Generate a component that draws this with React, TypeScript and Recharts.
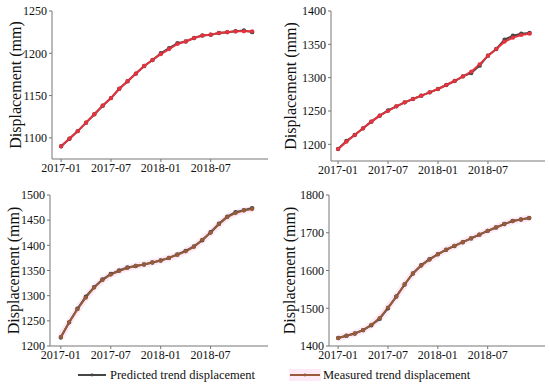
import { LineChart, Line, XAxis, YAxis } from "recharts";

const monthTicks = [0, 6, 12, 18];
const monthLabels = ["2017-01", "2017-07", "2018-01", "2018-07"];

const predA = [1090, 1099, 1108, 1118, 1128, 1138, 1147, 1158, 1167, 1176, 1185, 1192, 1200, 1206, 1212, 1214, 1218, 1221, 1222, 1224, 1225, 1226, 1227, 1225];
const measA = [1090, 1099, 1108, 1118, 1128, 1138, 1147, 1158, 1167, 1176, 1185, 1192, 1199, 1205, 1211, 1214, 1218, 1221, 1222, 1224, 1225, 1226, 1226, 1226];

const predC = [1193, 1205, 1214, 1224, 1234, 1243, 1251, 1257, 1263, 1268, 1273, 1278, 1283, 1289, 1295, 1302, 1307, 1318, 1333, 1343, 1357, 1363, 1366, 1367];
const measC = [1193, 1204, 1214, 1224, 1234, 1243, 1250, 1257, 1263, 1268, 1273, 1278, 1283, 1289, 1295, 1302, 1309, 1320, 1333, 1343, 1354, 1360, 1364, 1366];

const predB = [1217, 1247, 1274, 1298, 1317, 1332, 1343, 1350, 1356, 1359, 1362, 1366, 1370, 1375, 1382, 1389, 1398, 1410, 1426, 1443, 1457, 1466, 1470, 1474];
const measB = [1218, 1247, 1273, 1296, 1316, 1331, 1342, 1349, 1355, 1359, 1362, 1366, 1370, 1375, 1381, 1388, 1397, 1411, 1425, 1442, 1456, 1464, 1469, 1472];

const predD = [1421, 1427, 1433, 1442, 1455, 1472, 1500, 1531, 1563, 1592, 1614, 1630, 1643, 1655, 1665, 1675, 1685, 1695, 1705, 1714, 1723, 1731, 1735, 1739];
const measD = [1421, 1427, 1433, 1442, 1456, 1474, 1502, 1531, 1563, 1592, 1613, 1629, 1643, 1655, 1665, 1675, 1685, 1695, 1705, 1714, 1723, 1731, 1735, 1739];

const FONT = "Liberation Serif, Times New Roman, DejaVu Serif, serif";
const PRED_COLOR = "#454545";
const HALO = "#fcebf6";

function makeRows(pred: number[], meas: number[]) {
  return pred.map((p, i) => ({ m: i, pred: p, meas: meas[i] }));
}

const fmtMonth = (v: number) => monthLabels[monthTicks.indexOf(v)] ?? "";

interface PanelProps {
  letter: string;
  pred: number[];
  meas: number[];
  measColor: string;
  halo: boolean;
  yDomain: [number, number];
  yTicks: number[];
  xDomain: [number, number];
  left: number;
  top: number;
  height: number;
  yWidth: number;
  marginTop: number;
  marginRight: number;
  xHeight: number;
  labelX: number;
}

function Panel(p: PanelProps) {
  const data = makeRows(p.pred, p.meas);
  const yLabel = (props: any) => {
    const vb = props.viewBox;
    const cy = vb.y + vb.height / 2;
    return (
      <text x={p.labelX} y={cy} transform={`rotate(-90, ${p.labelX}, ${cy})`} textAnchor="middle"
        dominantBaseline="central" style={{ fontFamily: FONT }} fontSize={16} fill="#111">
        Displacement (mm)
      </text>
    );
  };
  const letterLabel = (props: any) => {
    const vb = props.viewBox;
    return (
      <text x={vb.x + 6} y={vb.y + 14} style={{ fontFamily: FONT }} fontSize={17} fill="#111">{p.letter}</text>
    );
  };
  const tickStyle = { fontSize: 12, fontFamily: FONT, fill: "#111", style: { fontFamily: FONT } };
  return (
    <div style={{ position: "absolute", left: p.left, top: p.top }}>
      <LineChart width={275} height={p.height} data={data}
        margin={{ top: p.marginTop, right: p.marginRight, left: 0, bottom: 0 }}>
        <XAxis xAxisId="b" dataKey="m" type="number" domain={p.xDomain} ticks={monthTicks}
          tickFormatter={fmtMonth} allowDataOverflow height={p.xHeight} interval={0}
          tick={tickStyle} tickSize={3} tickMargin={1} stroke="#777" />
        <XAxis xAxisId="t" dataKey="m" type="number" domain={p.xDomain} orientation="top" height={0}
          tick={false} tickLine={false} stroke="#999" allowDataOverflow />
        <YAxis yAxisId="l" domain={p.yDomain} ticks={p.yTicks} width={p.yWidth} interval={0}
          tick={tickStyle} tickSize={3} tickMargin={2}
          stroke="#777" allowDataOverflow label={{ content: yLabel }} />
        <YAxis yAxisId="r" domain={p.yDomain} orientation="right" width={0} tick={false} tickLine={false}
          stroke="#999" label={{ content: letterLabel }} />
        {p.halo && (
          <Line xAxisId="b" yAxisId="l" dataKey="meas" stroke={HALO} strokeWidth={7} dot={false}
            isAnimationActive={false} />
        )}
        <Line xAxisId="b" yAxisId="l" dataKey="pred" stroke={PRED_COLOR} strokeWidth={2}
          dot={{ r: 1.2, fill: PRED_COLOR, stroke: PRED_COLOR }} isAnimationActive={false} />
        <Line xAxisId="b" yAxisId="l" dataKey="meas" stroke={p.measColor} strokeWidth={2}
          dot={{ r: 1.1, fill: p.measColor, stroke: p.measColor }} isAnimationActive={false} />
      </LineChart>
    </div>
  );
}

export default function App() {
  return (
    <div style={{ position: "absolute", left: 0, top: 0, width: 550, height: 384, background: "#fff", overflow: "hidden", fontFamily: FONT }}>
      <Panel letter="a" pred={predA} meas={measA} measColor="#e8323e" halo={false}
        yDomain={[1075, 1250]} yTicks={[1100, 1150, 1200, 1250]} xDomain={[-1.1, 24.9]}
        left={0} top={0} height={180} yWidth={52} marginTop={11} marginRight={7} xHeight={21} labelX={15} />
      <Panel letter="c" pred={predC} meas={measC} measColor="#e8323e" halo={false}
        yDomain={[1175, 1400]} yTicks={[1200, 1250, 1300, 1350, 1400]} xDomain={[-0.85, 24.85]}
        left={275} top={0} height={180} yWidth={56} marginTop={11} marginRight={5} xHeight={19} labelX={15} />
      <Panel letter="b" pred={predB} meas={measB} measColor="#9a5b3a" halo={true}
        yDomain={[1200, 1500]} yTicks={[1200, 1250, 1300, 1350, 1400, 1450, 1500]} xDomain={[-1.3, 24.9]}
        left={0} top={180} height={185} yWidth={50} marginTop={15} marginRight={7} xHeight={19} labelX={13} />
      <Panel letter="d" pred={predD} meas={measD} measColor="#9a5b3a" halo={true}
        yDomain={[1400, 1800]} yTicks={[1400, 1500, 1600, 1700, 1800]} xDomain={[-1.1, 24.9]}
        left={275} top={180} height={185} yWidth={54} marginTop={15} marginRight={5} xHeight={19} labelX={14} />
      <div style={{ position: "absolute", left: 0, top: 365, width: 550, height: 19 }}>
        <svg width={550} height={19} style={{ position: "absolute", left: 0, top: 0 }}>
          <line x1={78} y1={10} x2={106} y2={10} stroke={PRED_COLOR} strokeWidth={2} />
          <circle cx={92} cy={10} r={1.4} fill={PRED_COLOR} />
          <text x={110} y={14} style={{ fontFamily: FONT }} fontSize={12.5} fill="#111">Predicted trend displacement</text>
          <rect x={289} y={4} width={32} height={12} fill={HALO} />
          <line x1={290} y1={10} x2={320} y2={10} stroke="#9a5b3a" strokeWidth={2} />
          <circle cx={305} cy={10} r={1.4} fill="#9a5b3a" />
          <text x={323} y={14} style={{ fontFamily: FONT }} fontSize={12.5} fill="#111">Measured trend displacement</text>
        </svg>
      </div>
    </div>
  );
}
